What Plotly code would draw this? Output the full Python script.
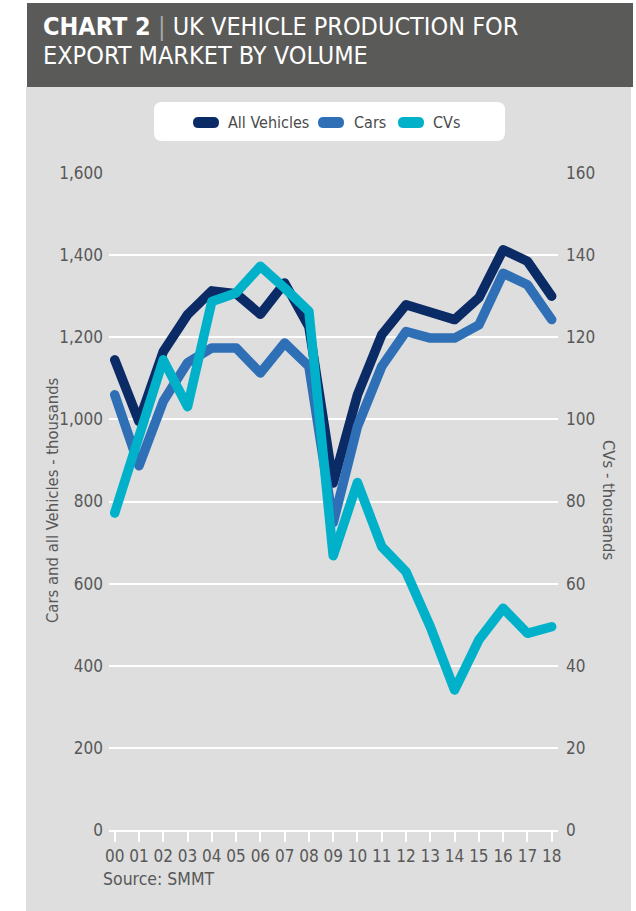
import plotly.graph_objects as go

years = ["00", "01", "02", "03", "04", "05", "06", "07", "08", "09",
         "10", "11", "12", "13", "14", "15", "16", "17", "18"]
all_vehicles = [1145, 995, 1165, 1255, 1313, 1306, 1256, 1332, 1226, 845,
                1060, 1206, 1279, 1258, 1243, 1296, 1413, 1385, 1300]
cars = [1060, 887, 1044, 1138, 1174, 1174, 1113, 1186, 1129, 748,
        983, 1129, 1214, 1198, 1198, 1230, 1356, 1328, 1243]
cvs = [77.2, 95.0, 114.5, 103.1, 128.7, 130.8, 137.3, 132.0, 126.3, 66.8,
       84.6, 69.0, 62.9, 49.5, 34.1, 46.3, 54.0, 47.9, 49.5]
left_ticks = [0, 200, 400, 600, 800, 1000, 1200, 1400, 1600]
right_ticks = [0, 20, 40, 60, 80, 100, 120, 140, 160]
series_names = ["All Vehicles", "Cars", "CVs"]
series_colors = ["#0b2b66", "#2e6fb6", "#00b1c9"]

FONT = "DejaVu Sans Condensed, Liberation Sans Narrow, Roboto, sans-serif"
W, H = 636, 911
L, R, T, B = 109, 558, 173, 830
TXT = "#585858"


def X(px):
    return (px - L) / (R - L)


def Y(py):
    return (B - py) / (B - T)


def rrect(x0, y0, x1, y1, r):
    pts = [
        ("M", x0 + r, y0), ("L", x1 - r, y0), ("Q", x1, y0, x1, y0 + r),
        ("L", x1, y1 - r), ("Q", x1, y1, x1 - r, y1), ("L", x0 + r, y1),
        ("Q", x0, y1, x0, y1 - r), ("L", x0, y0 + r), ("Q", x0, y0, x0 + r, y0),
    ]
    s = ""
    for p in pts:
        cmd = p[0]
        coords = p[1:]
        parts = []
        for i in range(0, len(coords), 2):
            parts.append(f"{X(coords[i]):.5f},{Y(coords[i+1]):.5f}")
        s += cmd + " " + " ".join(parts) + " "
    return s + "Z"


fig = go.Figure()
fig.add_trace(go.Scatter(x=years, y=all_vehicles, name=series_names[0], mode="lines",
                         line=dict(color=series_colors[0], width=9.5), yaxis="y"))
fig.add_trace(go.Scatter(x=years, y=cars, name=series_names[1], mode="lines",
                         line=dict(color=series_colors[1], width=9.5), yaxis="y"))
fig.add_trace(go.Scatter(x=years, y=cvs, name=series_names[2], mode="lines",
                         line=dict(color=series_colors[2], width=9.5), yaxis="y2"))

shapes = [
    dict(type="rect", xref="paper", yref="paper", x0=X(26), x1=X(631), y0=Y(87), y1=Y(911),
         fillcolor="#dedede", line=dict(width=0), layer="below"),
    dict(type="rect", xref="paper", yref="paper", x0=X(27), x1=X(633), y0=Y(3), y1=Y(87),
         fillcolor="#5a5a58", line=dict(width=0), layer="below"),
    dict(type="path", xref="paper", yref="paper", path=rrect(154, 102, 505, 141, 8),
         fillcolor="white", line=dict(width=0), layer="below"),
]
annotations = []
pill_x = [193, 318, 398]
text_x = [226, 352, 431]
for i in range(3):
    shapes.append(dict(type="path", xref="paper", yref="paper",
                       path=rrect(pill_x[i], 117, pill_x[i] + 26, 128, 5.5),
                       fillcolor=series_colors[i], line=dict(width=0)))
    annotations.append(dict(xref="paper", yref="paper", x=X(text_x[i]), y=Y(122.5),
                            xanchor="left", yanchor="middle", showarrow=False,
                            text=series_names[i], font=dict(family=FONT, size=16, color="#4a4a4a")))

annotations += [
    dict(xref="paper", yref="paper", x=X(41), y=Y(26), xanchor="left", yanchor="middle",
         showarrow=False,
         text="<b>CHART 2</b> <span style='color:#a8a8a8'>|</span> UK VEHICLE PRODUCTION FOR",
         font=dict(family=FONT, size=25, color="white")),
    dict(xref="paper", yref="paper", x=X(41), y=Y(56), xanchor="left", yanchor="middle",
         showarrow=False, text="EXPORT MARKET BY VOLUME",
         font=dict(family=FONT, size=25, color="white")),
    dict(xref="paper", yref="paper", x=X(101), y=Y(879), xanchor="left", yanchor="middle",
         showarrow=False, text="Source: SMMT", font=dict(family=FONT, size=17.5, color=TXT)),
    dict(xref="paper", yref="paper", x=X(52), y=Y(500), xanchor="center", yanchor="middle",
         showarrow=False, textangle=-90, text="Cars and all Vehicles - thousands",
         font=dict(family=FONT, size=16.5, color=TXT)),
    dict(xref="paper", yref="paper", x=X(609), y=Y(500), xanchor="center", yanchor="middle",
         showarrow=False, textangle=90, text="CVs - thousands",
         font=dict(family=FONT, size=16.5, color=TXT)),
]

fig.update_layout(
    width=W, height=H,
    margin=dict(l=L, r=W - R, t=T, b=H - B, pad=0),
    paper_bgcolor="white", plot_bgcolor="rgba(0,0,0,0)",
    showlegend=False,
    shapes=shapes, annotations=annotations,
    xaxis=dict(type="category", range=[-0.235, 18.26], showgrid=False, zeroline=False,
               showline=True, linecolor="white", linewidth=2,
               ticks="outside", ticklen=10, tickwidth=2, tickcolor="white", tickangle=0,
               tickfont=dict(family=FONT, size=17, color=TXT), fixedrange=True),
    yaxis=dict(range=[0, 1600], tickvals=left_ticks, tickformat=",", showgrid=True,
               gridcolor="white", gridwidth=2, zeroline=False, showline=False,
               ticks="", ticklabelstandoff=5,
               tickfont=dict(family=FONT, size=17, color=TXT)),
    yaxis2=dict(range=[0, 160], tickvals=right_ticks, overlaying="y", side="right",
                showgrid=False, zeroline=False, showline=False, ticks="", ticklabelstandoff=7,
                tickfont=dict(family=FONT, size=17, color=TXT)),
)

post = (
    "document.body.style.margin='0';document.body.style.overflow='hidden';"
    "document.querySelectorAll('.scatterlayer .js-line').forEach(function(p){"
    "p.style.strokeLinejoin='round';p.style.strokeLinecap='round';});"
)
fig.write_html("out.html", config={"displayModeBar": False}, post_script=post)
